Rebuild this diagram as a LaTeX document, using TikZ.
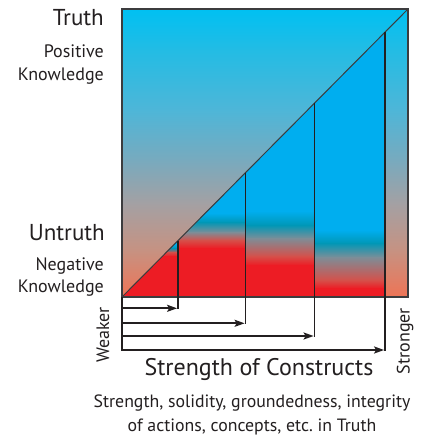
\documentclass[tikz,border=0pt]{standalone}
\usepackage{fontspec}
\setmainfont{PT Sans}
\frenchspacing
\usetikzlibrary{arrows.meta}
\definecolor{ink}{RGB}{35,31,32}
\definecolor{frame}{RGB}{60,60,62}
\definecolor{bgA}{RGB}{0,192,242}
\definecolor{bgB}{RGB}{35,188,228}
\definecolor{bgC}{RGB}{78,182,216}
\definecolor{bgD}{RGB}{120,170,190}
\definecolor{bgE}{RGB}{165,160,162}
\definecolor{bgF}{RGB}{198,146,130}
\definecolor{bgG}{RGB}{238,116,86}
\definecolor{sblue}{RGB}{0,174,239}
\definecolor{steal}{RGB}{0,151,182}
\definecolor{sgray}{RGB}{124,142,152}
\definecolor{sredb}{RGB}{213,80,74}
\definecolor{sred}{RGB}{237,28,36}
\newcommand\sband[6]{\shade[top color=#5,bottom color=#6] (#1,#3) rectangle (#2,#4);}
\tikzset{
  lab/.style={text=ink, inner sep=0pt},
  vline/.style={draw=ink, line width=1.8pt},
  conn/.style={draw=ink, line width=1.8pt, -{Stealth[length=10pt,width=7pt,inset=2pt]}},
}
\begin{document}
\begin{tikzpicture}[x=1pt,y=-1pt]
\useasboundingbox (0,0) rectangle (432,436);
\fill[white] (0,0) rectangle (432,436);
% background gradient
\sband{122}{408}{9}{50.5}{bgA}{bgB}
\sband{122}{408}{50}{110.5}{bgB}{bgC}
\sband{122}{408}{110}{160.5}{bgC}{bgD}
\sband{122}{408}{160}{205.5}{bgD}{bgE}
\sband{122}{408}{205}{250.5}{bgE}{bgF}
\sband{122}{408}{250}{297}{bgF}{bgG}
% named points
\coordinate (BL) at (122,297);
\coordinate (TR) at (408,9);
\coordinate (V1) at (178,240.6);
\coordinate (V2) at (245.5,172.7);
\coordinate (V3) at (314.5,103.2);
\coordinate (V4) at (385,32.2);
% strip 1
\begin{scope}
\clip (BL) -- (V1) -- (178,297) -- cycle;
\sband{122}{178}{238}{244.5}{sblue}{sblue}
\sband{122}{178}{244}{248.5}{sblue}{steal}
\sband{122}{178}{248}{252.5}{steal}{sredb}
\sband{122}{178}{252}{256.5}{sredb}{sred}
\sband{122}{178}{256}{297}{sred}{sred}
\end{scope}
% strip 2
\begin{scope}
\clip (V1) -- (V2) -- (245.5,297) -- (178,297) -- cycle;
\sband{178}{245.5}{170}{213.5}{sblue}{sblue}
\sband{178}{245.5}{213}{222.5}{sblue}{steal}
\sband{178}{245.5}{222}{232.5}{steal}{sgray}
\sband{178}{245.5}{232}{240.5}{sgray}{sredb}
\sband{178}{245.5}{240}{248.5}{sredb}{sred}
\sband{178}{245.5}{248}{297}{sred}{sred}
\end{scope}
% strip 3
\begin{scope}
\clip (V2) -- (V3) -- (314.5,297) -- (245.5,297) -- cycle;
\sband{245.5}{314.5}{100}{211.5}{sblue}{sblue}
\sband{245.5}{314.5}{211}{225.5}{sblue}{steal}
\sband{245.5}{314.5}{225}{238.5}{steal}{sgray}
\sband{245.5}{314.5}{238}{256.5}{sgray}{sredb}
\sband{245.5}{314.5}{256}{265.5}{sredb}{sred}
\sband{245.5}{314.5}{265}{297}{sred}{sred}
\end{scope}
% strip 4
\begin{scope}
\clip (V3) -- (V4) -- (385,297) -- (314.5,297) -- cycle;
\sband{314.5}{385}{30}{230.5}{sblue}{sblue}
\sband{314.5}{385}{230}{243.5}{sblue}{steal}
\sband{314.5}{385}{243}{257.5}{steal}{sgray}
\sband{314.5}{385}{257}{280.5}{sgray}{sredb}
\sband{314.5}{385}{280}{288.5}{sredb}{sred}
\sband{314.5}{385}{288}{297}{sred}{sred}
\end{scope}
% frame and diagonal
\draw[frame, line width=1.2pt] (122,9) rectangle (408,297);
\draw[frame, line width=1.6pt] (408,9) -- (408,297) -- (122,297);
\draw[frame, line width=1pt] (BL) -- (TR);
% arrow levels
\coordinate (A0) at (122,297);
\coordinate (L1) at (122,308.3);
\coordinate (L2) at (122,323.3);
\coordinate (L3) at (122,336);
\coordinate (L4) at (122,350);
\coordinate (E1) at (178,308.3);
\coordinate (E2) at (245.5,323.3);
\coordinate (E3) at (314.5,336);
\coordinate (E4) at (385,350);
\draw[vline] (A0) -- ([yshift=-0.9pt]L4);
\draw[vline] (V1) -- ([yshift=-0.9pt]E1);
\draw[vline] (V2) -- ([yshift=-0.9pt]E2);
\draw[vline] (V3) -- ([yshift=-0.9pt]E3);
\draw[vline] (V4) -- ([yshift=-0.9pt]E4);
\draw[conn] ([xshift=-0.9pt]L1) -- ([xshift=-0.9pt]E1);
\draw[conn] ([xshift=-0.9pt]L2) -- ([xshift=-0.9pt]E2);
\draw[conn] ([xshift=-0.9pt]L3) -- ([xshift=-0.9pt]E3);
\draw[conn] ([xshift=-0.9pt]L4) -- ([xshift=-0.9pt]E4);
% labels
\node[lab, anchor=base east, font=\fontsize{23}{26}\selectfont] (truth) at (104,26) {Truth};
\node[lab, anchor=base east, font=\fontsize{18}{22}\selectfont] (pos) at (104,58) {Positive};
\node[lab, anchor=base east, font=\fontsize{18}{22}\selectfont] (know1) at (104,81) {Knowledge};
\node[lab, anchor=base east, font=\fontsize{23}{26}\selectfont] (untruth) at (105,240) {Untruth};
\node[lab, anchor=base east, font=\fontsize{18}{22}\selectfont] (neg) at (104,270) {Negative};
\node[lab, anchor=base east, font=\fontsize{18}{22}\selectfont] (know2) at (104,292) {Knowledge};
\node[lab, rotate=90, font=\fontsize{18}{22}\selectfont] (weaker) at (103,335) {Weaker};
\node[lab, rotate=90, font=\fontsize{18}{22}\selectfont] (stronger) at (405,341) {Stronger};
\node[lab, anchor=base, font=\fontsize{24}{28}\selectfont] (soc) at (259,375) {Strength of Constructs};
\node[lab, anchor=base, font=\fontsize{17.8}{21}\selectfont] (desc1) at (252,407) {Strength, solidity, groundedness, integrity};
\node[lab, anchor=base, font=\fontsize{17.8}{21}\selectfont] (desc2) at (252,431) {of actions, concepts, etc. in Truth};
\end{tikzpicture}
\end{document}
